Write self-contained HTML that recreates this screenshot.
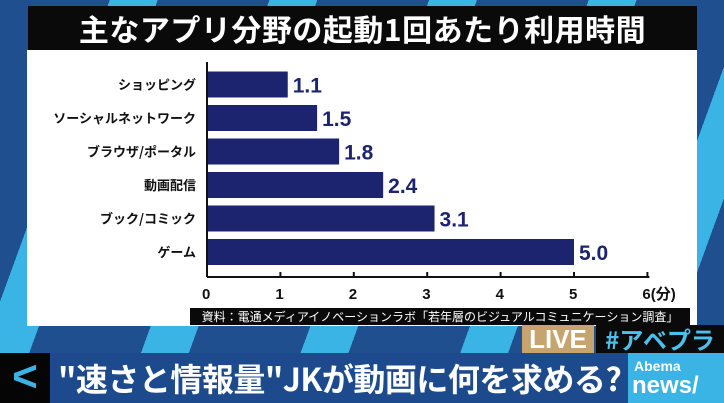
<!DOCTYPE html>
<html><head><meta charset="utf-8"><style>
body{margin:0;width:724px;height:403px;overflow:hidden;position:relative;font-family:"Liberation Sans","Noto Sans CJK JP",sans-serif;
background:#1f4f8e;}
.bg{position:absolute;left:0;top:0;width:724px;height:403px;background:repeating-linear-gradient(-70deg,#1f4f8e 0 70px,#3ab4e4 70px 115px,#1f4f8e 115px 150px);}
</style></head><body>
<div class="bg"></div>
<div style="position:absolute;left:28px;top:6px;width:669px;height:44px;background:#0a0a0a;color:#fff;font-weight:bold;font-size:30px;line-height:44px;text-align:center;white-space:nowrap;font-family:'Noto Sans CJK JP',sans-serif;letter-spacing:0.5px;">主なアプリ分野の起動1回あたり利用時間</div>
<div style="position:absolute;left:27px;top:50px;width:670px;height:276px;background:#fff;"></div>
<svg id="chart" width="724" height="403" style="position:absolute;left:0;top:0;"></svg>
<div style="position:absolute;left:190px;top:308px;width:500px;height:17px;background:#0a0a0a;color:#fff;font-size:12px;line-height:17px;text-align:center;white-space:nowrap;font-family:'Noto Sans CJK JP',sans-serif;">資料：電通メディアイノベーションラボ「若年層のビジュアルコミュニケーション調査」</div>
<div style="position:absolute;left:522px;top:325px;width:72px;height:28px;background:#c5a46e;color:#fff;font-weight:bold;font-size:26px;line-height:28px;text-align:center;">LIVE</div>
<div style="position:absolute;left:596px;top:325px;width:128px;height:28px;background:#0a0a0a;color:#4cc0ec;font-weight:bold;font-size:24px;line-height:28px;text-align:center;white-space:nowrap;font-family:'Noto Sans CJK JP',sans-serif;">#アベプラ</div>
<div style="position:absolute;left:0;top:353px;width:724px;height:50px;background:#1c4a8c;"></div>
<div style="position:absolute;left:0;top:353px;width:50px;height:50px;background:#050505;color:#3ab4e4;font-size:44px;font-weight:bold;line-height:48px;text-align:center;">&lt;</div>
<div style="position:absolute;left:58px;top:353px;width:570px;height:50px;color:#fff;font-weight:bold;font-size:32px;line-height:50px;white-space:nowrap;overflow:hidden;font-family:'Noto Sans CJK JP',sans-serif;letter-spacing:-0.5px;">"速さと情報量"JKが動画に何を求める?</div>
<div style="position:absolute;left:628px;top:353px;width:96px;height:50px;background:#3ab4e4;color:#fff;font-weight:bold;">
<div style="font-size:14px;line-height:14px;margin:6px 0 0 6px;">Abema</div><div style="font-size:24px;line-height:26px;margin-left:4px;">news/</div></div>
<script>
const categories=["ショッピング","ソーシャルネットワーク","ブラウザ/ポータル","動画配信","ブック/コミック","ゲーム"];
const values=[1.1,1.5,1.8,2.4,3.1,5.0];
const valueLabels=["1.1","1.5","1.8","2.4","3.1","5.0"];
const ticks=[0,1,2,3,4,5,6];
const tickLabels=["0","1","2","3","4","5","6(分)"];
const NS="http://www.w3.org/2000/svg",svg=document.getElementById('chart');
const x0=207,unit=73.4,rowTop=71.5,rowStep=33.5,barH=26,axisY=277;
const xs=v=>x0+v*unit, ys=i=>rowTop+i*rowStep;
function mk(t,a){const e=document.createElementNS(NS,t);for(const k in a)e.setAttribute(k,a[k]);svg.appendChild(e);return e;}
categories.forEach((c,i)=>{
 const b=mk('rect',{x:x0,y:ys(i),width:xs(values[i])-x0,height:barH,fill:'#1c2470'});
 
 
 const l=mk('text',{x:196,y:ys(i)+barH/2+5,'text-anchor':'end','font-size':13,'font-weight':'bold',fill:'#111','font-family':'Noto Sans CJK JP,sans-serif'});
 l.textContent=c;
 
 
 const v=mk('text',{x:xs(values[i])+5,y:ys(i)+barH/2+8,'font-size':21,'font-weight':'bold',fill:'#1c2470'});
 v.textContent=valueLabels[i];
 
 
});
const ax=mk('line',{x1:x0,y1:62,x2:x0,y2:axisY,stroke:'#111','stroke-width':2});


const bx=mk('line',{x1:x0,y1:axisY,x2:xs(6)+2,y2:axisY,stroke:'#111','stroke-width':2});


ticks.forEach((t,i)=>{
 const tk=mk('line',{x1:xs(t),y1:axisY-5,x2:xs(t),y2:axisY,stroke:'#111','stroke-width':2});
 
 
 const tl=mk('text',{x:xs(t)-5,y:axisY+22,'font-size':15,'font-weight':'bold',fill:'#111','font-family':'Liberation Sans,Noto Sans CJK JP,sans-serif'});
 tl.textContent=tickLabels[i];
 
 
});
</script>
</body></html>
